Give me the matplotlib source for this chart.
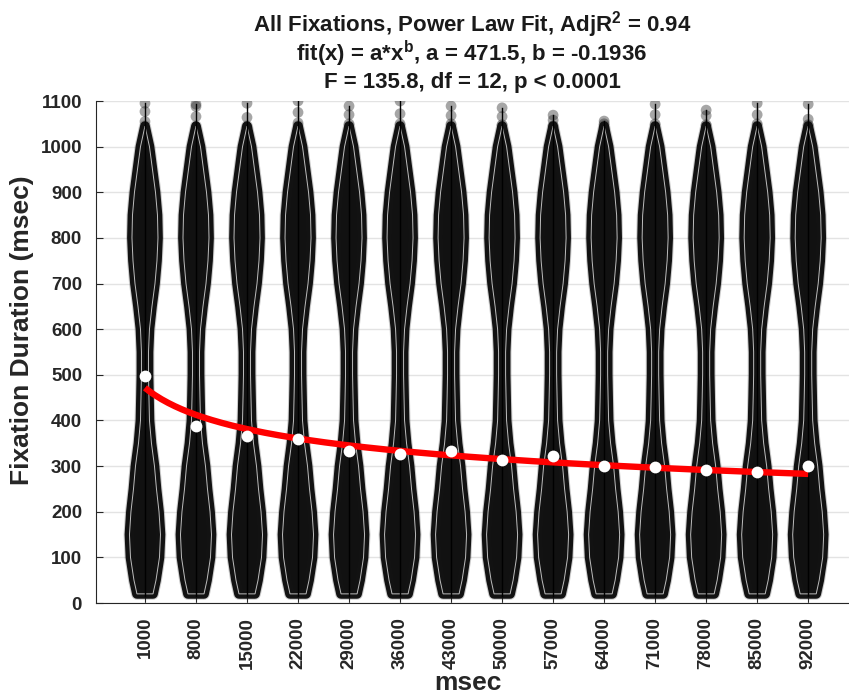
import numpy as np
import matplotlib
matplotlib.use("Agg")
import matplotlib.pyplot as plt
from matplotlib.patches import Polygon

plt.rcParams.update({
    "font.family": "Liberation Sans",
    "font.weight": "bold",
    "mathtext.fontset": "custom",
    "mathtext.rm": "Liberation Sans:bold",
    "mathtext.bf": "Liberation Sans:bold",
    "mathtext.it": "Liberation Sans:bold",
})

# ---- data ----
conditions = ["1000", "8000", "15000", "22000", "29000", "36000", "43000",
              "50000", "57000", "64000", "71000", "78000", "85000", "92000"]
mean_dur = [497, 388, 367, 359, 334, 327, 334, 313, 322, 301, 297, 292, 287, 301]
max_dur = [1095, 1093, 1095, 1100, 1089, 1100, 1089, 1085, 1069, 1056, 1093, 1080, 1095, 1093]
min_dur = [15, 15, 15, 15, 15, 15, 15, 15, 15, 15, 15, 15, 15, 15]
top_points = [[1095, 1077, 1055], [1093, 1088, 1066], [1095, 1064, 1043],
              [1100, 1075, 1052], [1089, 1070, 1050], [1100, 1072, 1050],
              [1089, 1068, 1050], [1085, 1066, 1048], [1069, 1058, 1045],
              [1056, 1050, 1042], [1093, 1070, 1050], [1080, 1068, 1048],
              [1095, 1070, 1050], [1093, 1060, 1048]]

# shared violin outline (duration level -> half width in category units)
profile_dur = [20, 50, 100, 150, 200, 250, 300, 350, 400, 450, 500, 550,
               600, 650, 700, 750, 800, 850, 900, 950, 1000, 1045]
profile_half = [0.157, 0.216, 0.284, 0.304, 0.275, 0.225, 0.186, 0.127, 0.088,
                0.078, 0.069, 0.069, 0.088, 0.137, 0.196, 0.235, 0.255, 0.245,
                0.206, 0.147, 0.088, 0.0]

fit_a, fit_b = 471.5, -0.1936

# ---- figure ----
fig = plt.figure(figsize=(8.49, 6.95), dpi=100)
ax = fig.add_axes([96 / 849, 1 - 603 / 695, 753 / 849, 502 / 695])

pos = np.arange(1, len(conditions) + 1)
pd_ = np.array(profile_dur)
ph = np.array(profile_half)

for i, x in enumerate(pos):
    xs = np.concatenate([x - ph, (x + ph)[::-1]])
    ys = np.concatenate([pd_, pd_[::-1]])
    verts = np.column_stack([xs, ys])
    # fuzzy halo from the overlapping semi-transparent points
    ax.add_patch(Polygon(verts, closed=True, facecolor="none", edgecolor="#333333",
                         lw=8.5, alpha=0.25, joinstyle="round", zorder=2))
    ax.add_patch(Polygon(verts, closed=True, facecolor="#111111", edgecolor="#121212",
                         lw=7.0, joinstyle="round", zorder=2.2))
    ax.scatter([x] * len(top_points[i]), top_points[i], s=60, color="#222222",
               alpha=0.4, edgecolors="none", zorder=2.1)
    # violin outline
    ax.add_patch(Polygon(verts, closed=True, facecolor="none", edgecolor="#bdbdbd",
                         lw=0.7, zorder=3))
    ax.plot([x, x], [min_dur[i], max_dur[i]], color="black", lw=1.0, zorder=3.5)

xf = np.linspace(1, len(conditions), 200)
ax.plot(xf, fit_a * xf ** fit_b, color="#ff0000", lw=4.6, zorder=5,
        solid_capstyle="butt")
ax.plot(pos, mean_dur, "o", color="white", markersize=8.5, markeredgewidth=0, zorder=6)

ax.set_xlim(0.04, 14.80)
ax.set_ylim(0, 1100)
ax.set_yticks(np.arange(0, 1101, 100))
ax.set_xticks(pos)
ax.set_xticklabels(conditions, rotation=90)
ax.yaxis.grid(True, color="#e3e3e3", lw=1.0, zorder=0)
ax.set_axisbelow(True)
for s in ["top", "right"]:
    ax.spines[s].set_visible(False)
for s in ["left", "bottom"]:
    ax.spines[s].set_color("#262626")
    ax.spines[s].set_linewidth(0.8)
ax.tick_params(direction="in", length=5, width=0.8, color="#262626",
               labelsize=13.5, labelcolor="#262626", pad=10)

fig.text(472 / 849, 1 - 31 / 695, r"All Fixations, Power Law Fit, AdjR$^\mathbf{2}$ = 0.94",
         ha="center", va="baseline", fontsize=16, color="#1a1a1a")
fig.text(472 / 849, 1 - 61 / 695, r"fit(x) = a*x$^\mathbf{b}$, a = 471.5, b = -0.1936",
         ha="center", va="baseline", fontsize=16, color="#1a1a1a")
fig.text(472 / 849, 1 - 88 / 695, "F = 135.8, df = 12, p < 0.0001",
         ha="center", va="baseline", fontsize=16, color="#1a1a1a")
fig.text(22 / 849, 1 - 330 / 695, "Fixation Duration (msec)", rotation=90,
         ha="center", va="center", fontsize=19, color="#262626")
fig.text(468 / 849, 1 - 683 / 695, "msec", ha="center", va="center",
         fontsize=19, color="#262626")

fig.savefig("out.png", dpi=100)
